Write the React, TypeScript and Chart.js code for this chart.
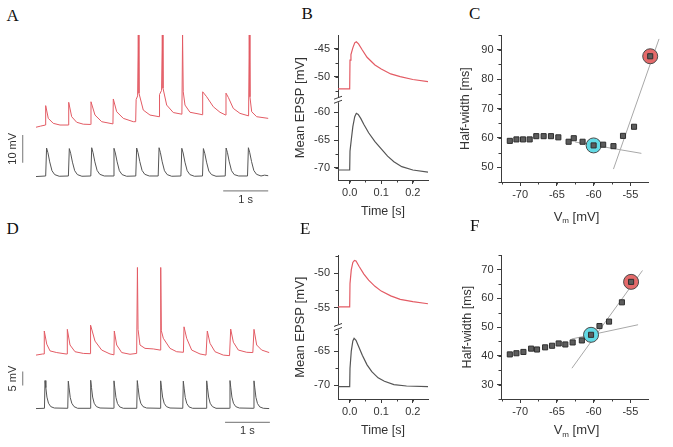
import React, { useEffect, useRef } from 'react';
import { Chart, registerables } from 'chart.js';
Chart.register(...registerables);

const FONT = '"Liberation Sans", Arial, sans-serif';
const SERIF = '"Liberation Serif", "Times New Roman", serif';
const TXT = '#333333';
const AXIS = '#3c3c3c';
const RED = '#e35b64';
const BLK = '#555555';
const BAR = '#8c8c8c';
const FIT = '#a8a8a8';
const SQ = '#5c5c5c';
const SQB = '#2e2e2e';
const CYAN = '#62d9e4';
const REDC = '#e46a6a';

type P = [number, number];

// ---------- Panel A : traces (time s, membrane potential mV) ----------
const aRed: P[] = [
  [0.0, -52.8], [0.1, -52.4], [0.21, -52.0], [0.215, -45.0], [0.273, -49.6], [0.384, -51.4], [0.533, -52.0],
  [0.72, -52.0], [0.727, -43.8], [0.793, -49.0], [0.904, -51.0], [1.051, -51.7],
  [1.215, -51.8], [1.222, -43.6], [1.311, -48.4], [1.46, -50.8],
  [1.71, -51.6], [1.718, -42.6], [1.793, -47.2], [1.94, -49.6], [2.162, -50.8],
  [2.215, -50.8], [2.225, -42.8], [2.258, -41.5], [2.273, -19.5], [2.288, -40.5], [2.384, -46.6], [2.533, -48.4],
  [2.735, -49.0], [2.745, -41.0], [2.79, -39.5], [2.807, -19.5], [2.822, -38.7], [2.904, -44.8], [3.051, -47.5],
  [3.242, -48.1], [3.257, -19.5], [3.272, -40.0], [3.311, -44.8], [3.422, -47.4], [3.644, -48.1],
  [3.697, -48.3], [3.704, -40.0], [3.793, -41.8], [3.94, -45.4], [4.089, -47.4],
  [4.215, -48.4], [4.222, -40.5], [4.273, -42.0], [4.384, -46.0], [4.533, -47.8],
  [4.724, -48.7], [4.739, -19.5], [4.754, -41.8], [4.793, -47.2], [4.904, -49.0], [5.16, -49.6],
];
const aBlack: P[] = [
  [0, -70.6],
  [0.215, -70.4], [0.235, -60.3], [0.265, -62.0], [0.305, -65.3], [0.355, -68.5], [0.415, -69.9], [0.515, -70.5],
  [0.72, -70.4], [0.74, -60.5], [0.77, -62.2], [0.81, -65.4], [0.86, -68.5], [0.92, -69.9], [1.02, -70.5],
  [1.218, -70.4], [1.238, -60.2], [1.268, -62.0], [1.308, -65.3], [1.358, -68.4], [1.418, -69.8], [1.518, -70.4],
  [1.713, -70.4], [1.733, -60.4], [1.763, -62.1], [1.803, -65.3], [1.853, -68.5], [1.913, -69.9], [2.013, -70.5],
  [2.217, -70.4], [2.237, -60.3], [2.267, -62.0], [2.307, -65.2], [2.357, -68.4], [2.417, -69.8], [2.517, -70.4],
  [2.715, -70.4], [2.735, -60.2], [2.765, -62.0], [2.805, -65.3], [2.855, -68.5], [2.915, -69.9], [3.015, -70.5],
  [3.22, -70.4], [3.24, -60.4], [3.27, -62.1], [3.31, -65.4], [3.36, -68.5], [3.42, -69.9], [3.52, -70.5],
  [3.7, -70.4], [3.72, -60.5], [3.75, -62.2], [3.79, -65.4], [3.84, -68.6], [3.9, -69.9], [4.0, -70.5],
  [4.205, -70.4], [4.225, -60.3], [4.255, -62.0], [4.295, -65.3], [4.345, -68.5], [4.405, -69.9], [4.505, -70.4],
  [4.7, -70.4], [4.72, -60.2], [4.75, -62.0], [4.79, -65.2], [4.84, -68.4], [4.9, -69.8], [5.0, -70.4],
  [5.08, -70.1], [5.16, -70.3],
];
const aRangeT: P = [-0.8, 5.6444];
const aRangeV: P = [-82.68, -15.89];
const aBarTime: P = [4.16, 5.16];
const aBarTimeLevel = -75.8;
const aBarVolt: P = [-65.6, -55.6];
const aBarVoltAt = -0.296;

// ---------- Panel D : traces ----------
const dRed: P[] = [
  [0, -51.2], [0.15, -50.8],
  [0.18, -50.8], [0.185, -42.6], [0.24, -47.3], [0.313, -49.7], [0.463, -50.3], [0.67, -50.8],
  [0.693, -50.8], [0.699, -42.0], [0.759, -47.6], [0.871, -50.0], [1.056, -50.6], [1.21, -50.7],
  [1.215, -50.7], [1.221, -40.5], [1.317, -46.2], [1.466, -49.4], [1.652, -50.8], [1.74, -51.1],
  [1.748, -42.6], [1.801, -47.6], [1.913, -50.3], [2.098, -50.9], [2.247, -50.6],
  [2.25, -50.6], [2.264, -19.9], [2.278, -42.0], [2.321, -47.6], [2.433, -48.8], [2.618, -49.0], [2.768, -49.4],
  [2.784, -19.9], [2.798, -42.5], [2.842, -45.2], [2.991, -48.8], [3.14, -50.0], [3.29, -50.2],
  [3.298, -50.2], [3.304, -41.1], [3.363, -45.2], [3.475, -49.4], [3.661, -50.8], [3.795, -51.2],
  [3.824, -42.6], [3.884, -47.0], [3.996, -50.0], [4.181, -51.2], [4.32, -51.4],
  [4.346, -41.9], [4.405, -46.6], [4.516, -49.4], [4.703, -50.2], [4.84, -50.3],
  [4.866, -42.0], [4.926, -47.6], [5.037, -49.4], [5.205, -50.3],
];
const dBlack: P[] = [
  [0, -70.3],
  [0.189, -70.2], [0.201, -60.3], [0.219, -62.8], [0.244, -66.2], [0.279, -68.4], [0.329, -69.6], [0.409, -70.1],
  [0.709, -70.2], [0.721, -60.5], [0.739, -62.9], [0.764, -66.3], [0.799, -68.4], [0.849, -69.6], [0.929, -70.2],
  [1.209, -70.2], [1.221, -60.2], [1.239, -62.8], [1.264, -66.2], [1.299, -68.4], [1.349, -69.6], [1.429, -70.1],
  [1.729, -70.2], [1.741, -60.4], [1.759, -62.9], [1.784, -66.3], [1.819, -68.5], [1.869, -69.7], [1.949, -70.2],
  [2.249, -70.2], [2.261, -60.3], [2.279, -62.8], [2.304, -66.2], [2.339, -68.4], [2.389, -69.6], [2.469, -70.1],
  [2.771, -70.2], [2.783, -60.4], [2.801, -62.9], [2.826, -66.2], [2.861, -68.4], [2.911, -69.6], [2.991, -70.1],
  [3.276, -70.2], [3.288, -60.5], [3.306, -63.0], [3.331, -66.3], [3.366, -68.5], [3.416, -69.7], [3.496, -70.2],
  [3.798, -70.2], [3.81, -60.4], [3.828, -62.9], [3.853, -66.2], [3.888, -68.4], [3.938, -69.6], [4.018, -70.2],
  [4.318, -70.2], [4.33, -60.3], [4.348, -62.8], [4.373, -66.2], [4.408, -68.4], [4.458, -69.6], [4.538, -70.1],
  [4.854, -70.2], [4.866, -60.4], [4.884, -62.9], [4.909, -66.3], [4.944, -68.5], [4.994, -69.7], [5.074, -70.2],
  [5.205, -70.3],
];
const dRangeT: P = [-0.8036, 5.6696];
const dRangeV: P = [-83.31, -11.88];
const dBarTime: P = [4.22, 5.22];
const dBarTimeLevel = -75.2;
const dBarVolt: P = [-62.1, -57.1];
const dBarVoltAt = -0.297;

// ---------- Panel B : mean EPSP ----------
const bRed: P[] = [
  [-0.037, -52.2], [0, -52.2], [0.001, -47.0], [0.004, -46.0], [0.01, -44.8], [0.016, -43.9], [0.021, -43.7],
  [0.028, -44.1], [0.04, -45.2], [0.055, -46.5], [0.08, -47.9], [0.1, -48.6], [0.13, -49.5], [0.16, -50.0],
  [0.2, -50.5], [0.248, -50.9],
];
const bBlack: P[] = [
  [-0.037, -70.4], [0, -70.4], [0.001, -67.0], [0.005, -65.0], [0.01, -62.6], [0.016, -60.8], [0.021, -60.2],
  [0.027, -60.4], [0.035, -61.1], [0.045, -62.2], [0.06, -63.7], [0.08, -65.3], [0.1, -66.6], [0.12, -67.9],
  [0.14, -68.9], [0.165, -69.8], [0.2, -70.4], [0.248, -70.8],
];
const bRangeT: P = [-0.037, 0.248];
const bRangeTop: P = [-54.15, -42.6];
const bRangeBot: P = [-72.2, -57.75];
const bTicksX = [0, 0.1, 0.2];
const bTicksTop = [-50, -45];
const bTicksBot = [-70, -65, -60];

// ---------- Panel E : mean EPSP ----------
const eRed: P[] = [
  [-0.037, -54.9], [0, -54.9], [0.001, -51.5], [0.005, -49.5], [0.01, -48.4], [0.015, -48.1], [0.02, -48.2],
  [0.03, -49.0], [0.045, -50.1], [0.06, -51.0], [0.08, -51.9], [0.1, -52.6], [0.13, -53.3], [0.16, -53.8],
  [0.2, -54.15], [0.248, -54.45],
];
const eBlack: P[] = [
  [-0.037, -70.2], [0, -70.2], [0.001, -67.5], [0.005, -65.0], [0.01, -63.5], [0.014, -63.1], [0.02, -63.4],
  [0.03, -64.5], [0.04, -65.6], [0.055, -67.0], [0.07, -68.0], [0.09, -68.9], [0.11, -69.4], [0.14, -69.9],
  [0.18, -70.1], [0.248, -70.2],
];
const eRangeT: P = [-0.037, 0.248];
const eRangeTop: P = [-57.85, -47.4];
const eRangeBot: P = [-72, -61.45];
const eTicksX = [0, 0.1, 0.2];
const eTicksTop = [-55, -50];
const eTicksBot = [-70, -65];

// ---------- Panel C : half-width vs Vm ----------
const cVm = [-71.4, -70.5, -69.6, -68.7, -67.8, -66.8, -65.8, -64.8, -63.4, -62.7, -61.5, -60.0, -58.7, -57.3, -56.0, -54.5, -52.3];
const cHW = [59.0, 59.5, 59.5, 59.5, 60.6, 60.6, 60.6, 60.2, 58.7, 59.9, 58.7, 57.45, 57.7, 57.2, 60.7, 63.8, 87.8];
const cCyan: P = [-60.0, 57.45];
const cRedPt: P = [-52.3, 87.8];
const cFitFlat: P[] = [[-62.5, 58.6], [-53.5, 54.75]];
const cFitSteep: P[] = [[-57.3, 49.4], [-51.1, 93.7]];
const cRangeX: P = [-72.6, -52.6];
const cRangeY: P = [45, 95];
const cTicksX = [-70, -65, -60, -55];
const cTicksY = [50, 60, 70, 80, 90];

// ---------- Panel F : half-width vs Vm ----------
const fVm = [-71.4, -70.5, -69.55, -68.5, -67.7, -66.6, -65.65, -64.75, -63.85, -62.85, -61.6, -60.35, -59.2, -57.9, -56.15, -54.9];
const fHW = [40.5, 40.9, 41.35, 42.5, 42.2, 42.95, 43.5, 44.3, 43.95, 44.65, 45.35, 47.3, 50.35, 51.9, 58.6, 65.7];
const fCyan: P = [-60.35, 47.3];
const fRedPt: P = [-54.9, 65.7];
const fFitFlat: P[] = [[-63.0, 45.85], [-53.95, 50.8]];
const fFitSteep: P[] = [[-62.95, 35.7], [-53.35, 69.65]];
const fRangeX: P = [-72.6, -52.6];
const fRangeY: P = [25, 75];
const fTicksX = [-70, -65, -60, -55];
const fTicksY = [30, 40, 50, 60, 70];

// ---------- helpers ----------
const xy = (pts: P[]) => pts.map(([x, y]) => ({ x, y }));
const zip = (xs: number[], ys: number[]) => xs.map((x, i) => ({ x, y: ys[i] }));

function traceConfig(s: any) {
  const barLabels = {
    id: 'barLabels',
    afterDraw(chart: any) {
      const { ctx } = chart;
      const x = chart.scales.x;
      const y = chart.scales.y;
      ctx.save();
      ctx.fillStyle = TXT;
      ctx.font = `11px ${FONT}`;
      ctx.textAlign = 'center';
      ctx.textBaseline = 'top';
      ctx.fillText(s.timeLabel, x.getPixelForValue((s.barTime[0] + s.barTime[1]) / 2), y.getPixelForValue(s.barTimeLevel) + 3.5);
      ctx.translate(x.getPixelForValue(s.barVoltAt) - 10, y.getPixelForValue((s.barVolt[0] + s.barVolt[1]) / 2));
      ctx.rotate(-Math.PI / 2);
      ctx.textBaseline = 'middle';
      ctx.fillText(s.voltLabel, 0, 0);
      ctx.restore();
    },
  };
  const line = (data: any, color: string, w = 1) => ({
    data, borderColor: color, borderWidth: w, pointRadius: 0, tension: 0, borderJoinStyle: 'miter', fill: false,
  });
  return {
    type: 'line',
    data: {
      datasets: [
        line(xy(s.red), RED),
        line(xy(s.black), BLK),
        line([{ x: s.barVoltAt, y: s.barVolt[0] }, { x: s.barVoltAt, y: s.barVolt[1] }], BAR, 1.2),
        line([{ x: s.barTime[0], y: s.barTimeLevel }, { x: s.barTime[1], y: s.barTimeLevel }], BAR, 1.2),
      ],
    },
    options: {
      animation: false,
      responsive: false,
      events: [],
      layout: { padding: 0 },
      scales: {
        x: { type: 'linear', display: false, min: s.rangeT[0], max: s.rangeT[1] },
        y: { type: 'linear', display: false, min: s.rangeV[0], max: s.rangeV[1] },
      },
      plugins: { legend: { display: false }, tooltip: { enabled: false } },
    },
    plugins: [barLabels],
  };
}

function axesDecor(d: any) {
  return {
    id: 'axesDecor',
    afterDraw(chart: any) {
      const ctx = chart.ctx;
      const ca = chart.chartArea;
      ctx.save();
      ctx.strokeStyle = AXIS;
      ctx.lineWidth = 1;
      for (const id of Object.keys(d.minor)) {
        const sc = chart.scales[id];
        const step = d.minor[id];
        const start = Math.ceil(sc.min / step - 1e-9) * step;
        ctx.beginPath();
        for (let v = start; v <= sc.max + 1e-9; v += step) {
          const p = Math.round(sc.getPixelForValue(v)) + 0.5;
          if (sc.isHorizontal()) {
            const y0 = Math.round(sc.top);
            ctx.moveTo(p, y0);
            ctx.lineTo(p, y0 + 2.5);
          } else {
            const x0 = Math.round(sc.right);
            ctx.moveTo(x0, p);
            ctx.lineTo(x0 - 2.5, p);
          }
        }
        ctx.stroke();
      }
      if (d.brk) {
        const topScale = chart.scales[d.brk];
        const jy = topScale.bottom;
        const ax = Math.round(ca.left);
        ctx.fillStyle = '#ffffff';
        ctx.fillRect(ax - 2, jy - 2.5, 4, 5);
        ctx.beginPath();
        ctx.moveTo(ax - 4, jy - 0.5);
        ctx.lineTo(ax + 4, jy - 3.5);
        ctx.moveTo(ax - 4, jy + 3.5);
        ctx.lineTo(ax + 4, jy + 0.5);
        ctx.stroke();
      }
      ctx.fillStyle = TXT;
      ctx.save();
      ctx.translate(ca.left + d.yDx, (ca.top + ca.bottom) / 2);
      ctx.rotate(-Math.PI / 2);
      ctx.textAlign = 'center';
      ctx.textBaseline = 'middle';
      ctx.font = `${d.ySize}px ${FONT}`;
      ctx.fillText(d.yTitle, 0, 0);
      ctx.restore();
      let total = 0;
      for (const p of d.xTitle) {
        ctx.font = `${p.size}px ${FONT}`;
        total += ctx.measureText(p.text).width;
      }
      let x = (ca.left + ca.right) / 2 + d.xDx - total / 2;
      const y = ca.bottom + d.xDy;
      ctx.textAlign = 'left';
      ctx.textBaseline = 'middle';
      for (const p of d.xTitle) {
        ctx.font = `${p.size}px ${FONT}`;
        ctx.fillText(p.text, x, y + (p.dy || 0));
        x += ctx.measureText(p.text).width;
      }
      ctx.restore();
    },
  };
}

const tickFont = { family: FONT, size: 11 };
const gridOpts = { display: true, drawOnChartArea: false, drawTicks: true, tickLength: 4, color: AXIS, lineWidth: 1 };
const borderOpts = { display: true, color: AXIS, width: 1 };
const fixedTicks = (vals: number[]) => (scale: any) => {
  scale.ticks = vals.map((v) => ({ value: v }));
};

function epspConfig(s: any) {
  const yAxis = (range: P, ticks: number[], weight: number) => ({
    type: 'linear',
    position: 'left',
    stack: 'v',
    stackWeight: range[1] - range[0],
    weight,
    min: range[0],
    max: range[1],
    afterBuildTicks: fixedTicks(ticks),
    ticks: { font: tickFont, color: TXT, padding: 4, autoSkip: false, callback: (v: any) => String(v) },
    grid: gridOpts,
    border: borderOpts,
    afterFit: (sc: any) => { sc.width = s.yWidth; },
  });
  return {
    type: 'line',
    data: {
      datasets: [
        { data: xy(s.red), xAxisID: 'x', yAxisID: 'yTop', borderColor: RED, borderWidth: 1.2, pointRadius: 0, tension: 0, fill: false },
        { data: xy(s.black), xAxisID: 'x', yAxisID: 'yBot', borderColor: BLK, borderWidth: 1.2, pointRadius: 0, tension: 0, fill: false },
      ],
    },
    options: {
      animation: false,
      responsive: false,
      events: [],
      layout: { padding: { top: s.padTop, right: s.padRight, left: 0, bottom: 0 } },
      plugins: { legend: { display: false }, tooltip: { enabled: false } },
      scales: {
        x: {
          type: 'linear',
          position: 'bottom',
          min: s.rangeT[0],
          max: s.rangeT[1],
          afterBuildTicks: fixedTicks(s.ticksX),
          ticks: { font: tickFont, color: TXT, padding: 2.5, autoSkip: false, maxRotation: 0, callback: (v: any) => Number(v).toFixed(1) },
          grid: gridOpts,
          border: borderOpts,
          afterFit: (sc: any) => { sc.height = s.xHeight; },
        },
        yBot: yAxis(s.rangeBot, s.ticksBot, 1),
        yTop: yAxis(s.rangeTop, s.ticksTop, 2),
      },
    },
    plugins: [axesDecor({
      minor: { x: 0.05, yTop: 2.5, yBot: 2.5 },
      brk: 'yTop',
      yTitle: 'Mean EPSP [mV]', ySize: 13, yDx: -37.6,
      xTitle: [{ text: 'Time [s]', size: 12.5 }], xDx: 0, xDy: 32,
    })],
  };
}

function hwConfig(s: any) {
  return {
    type: 'scatter',
    data: {
      datasets: [
        { data: zip(s.vm, s.hw), pointStyle: 'rect', pointRadius: 3.6, backgroundColor: SQ, borderColor: SQB, borderWidth: 1, clip: false },
        { data: [{ x: s.cyan[0], y: s.cyan[1] }], pointStyle: 'circle', pointRadius: 7.5, backgroundColor: CYAN, borderColor: '#4a4a4a', borderWidth: 1, clip: false },
        { data: [{ x: s.redPt[0], y: s.redPt[1] }], pointStyle: 'circle', pointRadius: 7.5, backgroundColor: REDC, borderColor: '#4a4a4a', borderWidth: 1, clip: false },
        { data: xy(s.fitSteep), showLine: true, borderColor: FIT, borderWidth: 1, pointRadius: 0, clip: false },
        { data: xy(s.fitFlat), showLine: true, borderColor: FIT, borderWidth: 1, pointRadius: 0, clip: false },
      ],
    },
    options: {
      animation: false,
      responsive: false,
      events: [],
      layout: { padding: { top: s.padTop, right: s.padRight, left: 0, bottom: 0 } },
      plugins: { legend: { display: false }, tooltip: { enabled: false } },
      scales: {
        x: {
          type: 'linear', position: 'bottom', min: s.rangeX[0], max: s.rangeX[1],
          afterBuildTicks: fixedTicks(s.ticksX),
          ticks: { font: tickFont, color: TXT, padding: 2, autoSkip: false, maxRotation: 0, callback: (v: any) => String(v) },
          grid: gridOpts, border: borderOpts,
          afterFit: (sc: any) => { sc.height = s.xHeight; },
        },
        y: {
          type: 'linear', position: 'left', min: s.rangeY[0], max: s.rangeY[1],
          afterBuildTicks: fixedTicks(s.ticksY),
          ticks: { font: tickFont, color: TXT, padding: 3.5, autoSkip: false, callback: (v: any) => String(v) },
          grid: gridOpts, border: borderOpts,
          afterFit: (sc: any) => { sc.width = s.yWidth; },
        },
      },
    },
    plugins: [axesDecor({
      minor: { x: 2.5, y: 5 },
      yTitle: 'Half-width [ms]', ySize: 12.5, yDx: s.yDx,
      xTitle: [{ text: 'V', size: 13 }, { text: 'm', size: 8, dy: 4 }, { text: ' [mV]', size: 13 }],
      xDx: 2, xDy: s.xDy,
    })],
  };
}

function ChartBox({ left, top, width, height, make }: any) {
  const ref = useRef<HTMLCanvasElement | null>(null);
  useEffect(() => {
    if (!ref.current) return;
    const chart = new Chart(ref.current, make());
    return () => chart.destroy();
  }, []);
  return (
    <canvas
      ref={ref}
      width={width}
      height={height}
      style={{ position: 'absolute', left, top, width, height }}
    />
  );
}

function Letter({ ch, left, top }: any) {
  return (
    <div style={{ position: 'absolute', left, top, fontFamily: SERIF, fontSize: 17, lineHeight: '17px', color: '#111' }}>
      {ch}
    </div>
  );
}

export default function App() {
  return (
    <div style={{ position: 'absolute', left: 0, top: 0, width: 673, height: 447, background: '#ffffff', overflow: 'hidden' }}>
      <ChartBox left={0} top={25} width={290} height={185} make={() => traceConfig({
        red: aRed, black: aBlack, rangeT: aRangeT, rangeV: aRangeV,
        barTime: aBarTime, barTimeLevel: aBarTimeLevel, barVolt: aBarVolt, barVoltAt: aBarVoltAt,
        voltLabel: '10 mV', timeLabel: '1 s',
      })} />
      <ChartBox left={0} top={245} width={290} height={200} make={() => traceConfig({
        red: dRed, black: dBlack, rangeT: dRangeT, rangeV: dRangeV,
        barTime: dBarTime, barTimeLevel: dBarTimeLevel, barVolt: dBarVolt, barVoltAt: dBarVoltAt,
        voltLabel: '5 mV', timeLabel: '1 s',
      })} />
      <ChartBox left={280} top={25} width={152} height={200} make={() => epspConfig({
        red: bRed, black: bBlack, rangeT: bRangeT, rangeTop: bRangeTop, rangeBot: bRangeBot,
        ticksX: bTicksX, ticksTop: bTicksTop, ticksBot: bTicksBot,
        padTop: 10, padRight: 4, yWidth: 58, xHeight: 45,
      })} />
      <ChartBox left={280} top={245} width={152} height={200} make={() => epspConfig({
        red: eRed, black: eBlack, rangeT: eRangeT, rangeTop: eRangeTop, rangeBot: eRangeBot,
        ticksX: eTicksX, ticksTop: eTicksTop, ticksBot: eTicksBot,
        padTop: 7, padRight: 4, yWidth: 58, xHeight: 46,
      })} />
      <ChartBox left={455} top={25} width={215} height={205} make={() => hwConfig({
        vm: cVm, hw: cHW, cyan: cCyan, redPt: cRedPt, fitFlat: cFitFlat, fitSteep: cFitSteep,
        rangeX: cRangeX, rangeY: cRangeY, ticksX: cTicksX, ticksY: cTicksY,
        padTop: 10, padRight: 22, yWidth: 46, xHeight: 48, yDx: -35.5, xDy: 35,
      })} />
      <ChartBox left={455} top={245} width={215} height={200} make={() => hwConfig({
        vm: fVm, hw: fHW, cyan: fCyan, redPt: fRedPt, fitFlat: fFitFlat, fitSteep: fFitSteep,
        rangeX: fRangeX, rangeY: fRangeY, ticksX: fTicksX, ticksY: fTicksY,
        padTop: 7, padRight: 22, yWidth: 46, xHeight: 46, yDx: -33, xDy: 31.5,
      })} />
      <Letter ch="A" left={6.5} top={7} />
      <Letter ch="B" left={301.5} top={5.3} />
      <Letter ch="C" left={469} top={5.3} />
      <Letter ch="D" left={6.5} top={220.3} />
      <Letter ch="E" left={300} top={220.3} />
      <Letter ch="F" left={470} top={217} />
    </div>
  );
}
